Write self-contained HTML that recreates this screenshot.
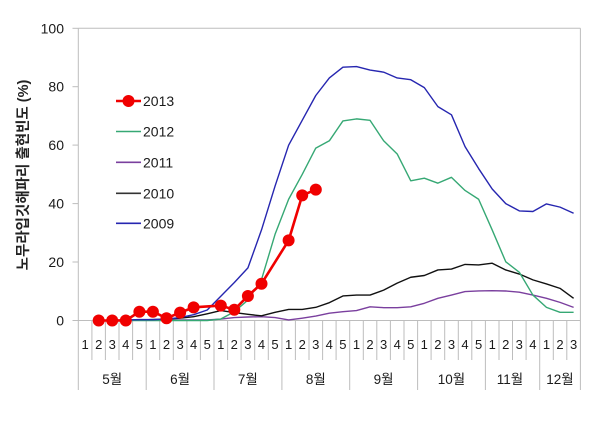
<!DOCTYPE html>
<html><head><meta charset="utf-8">
<style>
html,body{margin:0;padding:0;background:#fff;}
svg{display:block;}
text{font-family:"Liberation Sans","Noto Sans CJK KR",sans-serif;fill:#1a1a1a;}
.wk{font-size:13px;text-anchor:middle;}
.mo{font-size:13.5px;text-anchor:middle;}
.yl{font-size:14px;text-anchor:end;}
.lg{font-size:14px;}
</style></head>
<body>
<svg width="601" height="432" viewBox="0 0 601 432" xmlns="http://www.w3.org/2000/svg">
<rect width="601" height="432" fill="#fff"/>
<!-- plot frame -->
<g stroke="#bdbdbd" stroke-width="1" fill="none">
<line x1="78.3" y1="28.3" x2="580.4" y2="28.3"/>
<line x1="580.4" y1="28.3" x2="580.4" y2="320.5"/>
<line x1="78.3" y1="28.3" x2="78.3" y2="390"/>
<line x1="78.3" y1="320.5" x2="580.4" y2="320.5"/>
<!-- y ticks -->
<line x1="72.5" y1="28.3" x2="78.3" y2="28.3"/>
<line x1="72.5" y1="86.7" x2="78.3" y2="86.7"/>
<line x1="72.5" y1="145.1" x2="78.3" y2="145.1"/>
<line x1="72.5" y1="203.6" x2="78.3" y2="203.6"/>
<line x1="72.5" y1="262" x2="78.3" y2="262"/>
<line x1="72.5" y1="320.5" x2="78.3" y2="320.5"/>
<!-- week separators -->
<path d="M91.9 320.5V360M105.4 320.5V360M119 320.5V360M132.6 320.5V360
M159.7 320.5V360M173.3 320.5V360M186.9 320.5V360M200.4 320.5V360
M227.6 320.5V360M241.1 320.5V360M254.7 320.5V360M268.3 320.5V360
M295.4 320.5V360M309 320.5V360M322.6 320.5V360M336.1 320.5V360
M363.3 320.5V360M376.8 320.5V360M390.4 320.5V360M404 320.5V360
M431.1 320.5V360M444.7 320.5V360M458.3 320.5V360M471.8 320.5V360
M499 320.5V360M512.5 320.5V360M526.1 320.5V360
M553.3 320.5V360M566.8 320.5V360"/>
<!-- month separators -->
<path d="M146.2 320.5V390M214 320.5V390M281.9 320.5V390M349.7 320.5V390M417.6 320.5V390M485.4 320.5V390M539.7 320.5V390M580.4 320.5V390"/>
</g>

<!-- y labels -->
<text class="yl" x="64" y="33.3">100</text>
<text class="yl" x="64" y="91.7">80</text>
<text class="yl" x="64" y="150.1">60</text>
<text class="yl" x="64" y="208.6">40</text>
<text class="yl" x="64" y="267">20</text>
<text class="yl" x="64" y="325.5">0</text>

<!-- y title -->
<text x="24" y="175" transform="rotate(-90 24 175)" text-anchor="middle" dominant-baseline="central" style="font-size:14.5px;font-weight:bold;font-family:'Liberation Sans','Noto Sans CJK KR',sans-serif;fill:#222">노무라입깃해파리 출현빈도 (%)</text>

<!-- week labels -->
<g>
<text class="wk" x="85.1" y="349">1</text><text class="wk" x="98.7" y="349">2</text><text class="wk" x="112.2" y="349">3</text><text class="wk" x="125.8" y="349">4</text><text class="wk" x="139.4" y="349">5</text>
<text class="wk" x="152.9" y="349">1</text><text class="wk" x="166.5" y="349">2</text><text class="wk" x="180.1" y="349">3</text><text class="wk" x="193.6" y="349">4</text><text class="wk" x="207.2" y="349">5</text>
<text class="wk" x="220.8" y="349">1</text><text class="wk" x="234.3" y="349">2</text><text class="wk" x="247.9" y="349">3</text><text class="wk" x="261.5" y="349">4</text><text class="wk" x="275" y="349">5</text>
<text class="wk" x="288.6" y="349">1</text><text class="wk" x="302.2" y="349">2</text><text class="wk" x="315.8" y="349">3</text><text class="wk" x="329.3" y="349">4</text><text class="wk" x="342.9" y="349">5</text>
<text class="wk" x="356.5" y="349">1</text><text class="wk" x="370" y="349">2</text><text class="wk" x="383.6" y="349">3</text><text class="wk" x="397.2" y="349">4</text><text class="wk" x="410.7" y="349">5</text>
<text class="wk" x="424.3" y="349">1</text><text class="wk" x="437.9" y="349">2</text><text class="wk" x="451.5" y="349">3</text><text class="wk" x="465" y="349">4</text><text class="wk" x="478.6" y="349">5</text>
<text class="wk" x="492.2" y="349">1</text><text class="wk" x="505.8" y="349">2</text><text class="wk" x="519.3" y="349">3</text><text class="wk" x="532.9" y="349">4</text>
<text class="wk" x="546.5" y="349">1</text><text class="wk" x="560" y="349">2</text><text class="wk" x="573.6" y="349">3</text>
</g>
<!-- month labels -->
<g>
<text class="mo" x="112.2" y="384">5월</text>
<text class="mo" x="180.1" y="384">6월</text>
<text class="mo" x="247.9" y="384">7월</text>
<text class="mo" x="315.8" y="384">8월</text>
<text class="mo" x="383.6" y="384">9월</text>
<text class="mo" x="451.5" y="384">10월</text>
<text class="mo" x="510" y="384">11월</text>
<text class="mo" x="560" y="384">12월</text>
</g>

<!-- series -->
<g transform="translate(78.3 320.5) scale(13.57 -2.922)" fill="none" stroke-linejoin="round">
<polyline vector-effect="non-scaling-stroke" stroke="#7a3f9e" stroke-width="1.4" points="2.5,0.2 3.5,0.2 4.5,0.2 5.5,0.2 6.5,0.2 7.5,0.2 8.5,0.2 9.5,0.2 10.5,0.5 11.5,1 12.5,1.2 13.5,1.3 14.5,1 15.5,0.2 16.5,0.8 17.5,1.5 18.5,2.5 19.5,3 20.5,3.4 21.5,4.7 22.5,4.4 23.5,4.4 24.5,4.7 25.5,5.9 26.5,7.6 27.5,8.7 28.5,9.9 29.5,10.1 30.5,10.2 31.5,10.1 32.5,9.7 33.5,8.7 34.5,7.6 35.5,6.2 36.5,4.5"/>
<polyline vector-effect="non-scaling-stroke" stroke="#111" stroke-width="1.4" points="2.5,0 3.5,0 4.5,0.2 5.5,0.3 6.5,0.5 7.5,0.8 8.5,1.3 9.5,2.3 10.5,3.4 11.5,2.7 12.5,2.1 13.5,1.6 14.5,2.8 15.5,3.8 16.5,3.8 17.5,4.5 18.5,6.1 19.5,8.4 20.5,8.7 21.5,8.7 22.5,10.4 23.5,12.8 24.5,14.8 25.5,15.4 26.5,17.3 27.5,17.6 28.5,19.2 29.5,19 30.5,19.6 31.5,17.3 32.5,15.9 33.5,13.9 34.5,12.5 35.5,11 36.5,7.6"/>
<polyline vector-effect="non-scaling-stroke" stroke="#36a874" stroke-width="1.4" points="2.5,0 3.5,0 4.5,0 5.5,0 6.5,0 7.5,0 8.5,0 9.5,0 10.5,0.5 11.5,3 12.5,7 13.5,14 14.5,29.5 15.5,41.5 16.5,50 17.5,59 18.5,61.5 19.5,68.3 20.5,69 21.5,68.5 22.5,61.5 23.5,57 24.5,47.8 25.5,48.7 26.5,47 27.5,49 28.5,44.5 29.5,41.5 30.5,31 31.5,20.1 32.5,16.5 33.5,8.7 34.5,4.5 35.5,2.8 36.5,2.8"/>
<polyline vector-effect="non-scaling-stroke" stroke="#2626b0" stroke-width="1.4" points="2.5,0 3.5,0.2 4.5,0.3 5.5,0.3 6.5,0.5 7.5,1 8.5,2 9.5,3.6 10.5,8.3 11.5,13 12.5,18 13.5,31 14.5,46 15.5,60 16.5,68.5 17.5,77 18.5,83 19.5,86.7 20.5,86.9 21.5,85.7 22.5,85 23.5,83 24.5,82.4 25.5,79.7 26.5,73.2 27.5,70.4 28.5,59.5 29.5,52 30.5,45 31.5,40 32.5,37.5 33.5,37.3 34.5,39.9 35.5,38.8 36.5,36.7"/>
<polyline vector-effect="non-scaling-stroke" stroke="#f00000" stroke-width="2.6" points="1.5,0 2.5,0 3.5,0 4.5,3 5.5,3 6.5,0.8 7.5,2.7 8.5,4.5 10.5,5.1 11.5,3.7 12.5,8.4 13.5,12.6 15.5,27.4 16.5,42.8 17.5,44.8"/>
</g>
<g fill="#f00000">
<circle cx="98.7" cy="320.5" r="6"/>
<circle cx="112.2" cy="320.5" r="6"/>
<circle cx="125.8" cy="320.5" r="6"/>
<circle cx="139.4" cy="311.7" r="6"/>
<circle cx="152.9" cy="311.7" r="6"/>
<circle cx="166.5" cy="318.2" r="6"/>
<circle cx="180.1" cy="312.6" r="6"/>
<circle cx="193.6" cy="307.4" r="6"/>
<circle cx="220.8" cy="305.6" r="6"/>
<circle cx="234.3" cy="309.7" r="6"/>
<circle cx="247.9" cy="296" r="6"/>
<circle cx="261.5" cy="283.7" r="6"/>
<circle cx="288.6" cy="240.4" r="6"/>
<circle cx="302.2" cy="195.4" r="6"/>
<circle cx="315.8" cy="189.6" r="6"/>
</g>

<!-- legend -->
<g stroke-width="1.6">
<line x1="116" y1="101" x2="141" y2="101" stroke="#f00000" stroke-width="2.6"/>
<line x1="116" y1="131.5" x2="141" y2="131.5" stroke="#36a874"/>
<line x1="116" y1="162.3" x2="141" y2="162.3" stroke="#7a3f9e"/>
<line x1="116" y1="193.3" x2="141" y2="193.3" stroke="#333"/>
<line x1="116" y1="223.3" x2="141" y2="223.3" stroke="#2626b0"/>
</g>
<circle cx="128.5" cy="101" r="6" fill="#f00000"/>
<text class="lg" x="143" y="106">2013</text>
<text class="lg" x="143" y="136.5">2012</text>
<text class="lg" x="143" y="167.3">2011</text>
<text class="lg" x="143" y="198.3">2010</text>
<text class="lg" x="143" y="228.3">2009</text>
</svg>
</body></html>
